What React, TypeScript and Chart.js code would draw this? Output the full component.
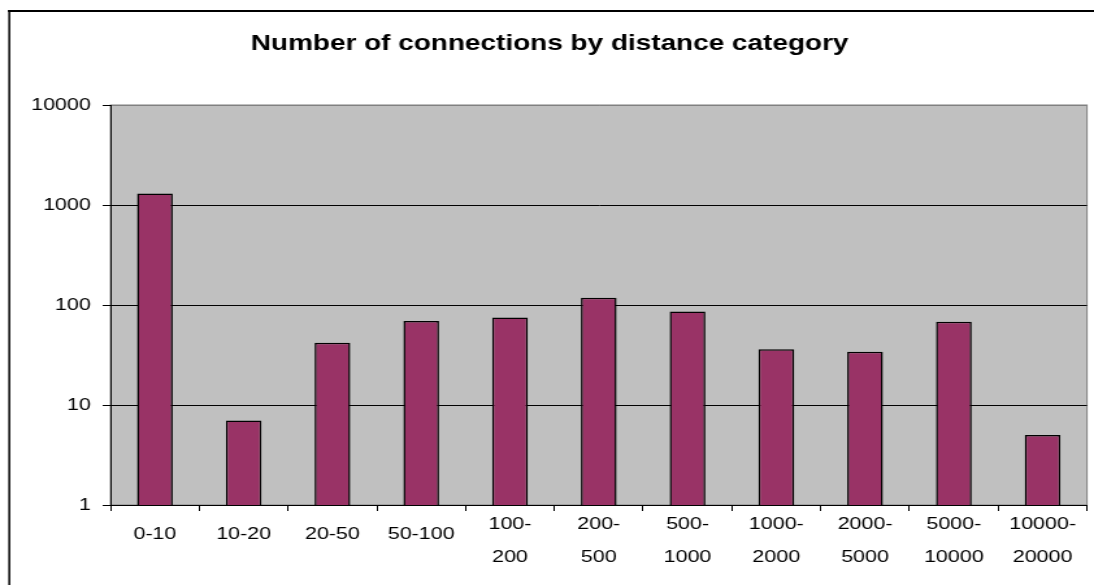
import React, { useEffect, useRef } from 'react';
import { Chart, registerables } from 'chart.js';

Chart.register(...registerables);

// ---- data ----
const categories = [
  '0-10', '10-20', '20-50', '50-100', '100-200', '200-500',
  '500-1000', '1000-2000', '2000-5000', '5000-10000', '10000-20000',
];
const categoryLines = [
  ['0-10'], ['10-20'], ['20-50'], ['50-100'], ['100-', '200'], ['200-', '500'],
  ['500-', '1000'], ['1000-', '2000'], ['2000-', '5000'], ['5000-', '10000'], ['10000-', '20000'],
];
const connections = [1300, 7, 42, 69, 75, 118, 86, 36, 34, 68, 5];
const yTickValues = [1, 10, 100, 1000, 10000];
const chartTitle = 'Number of connections by distance category';

// ---- geometry / style ----
const DISPLAY_W = 1094;
const DISPLAY_H = 585;
const INTERNAL_W = 842; // drawn narrower, then stretched horizontally
const SX = DISPLAY_W / INTERNAL_W;
const FONT = "'Liberation Sans', Arial, sans-serif";

const framePlugin = {
  id: 'frameAndPlotBg',
  beforeDraw(chart: any) {
    const { ctx, chartArea: a, width, height } = chart;
    ctx.save();
    ctx.fillStyle = '#ffffff';
    ctx.fillRect(0, 0, width, height);
    // outer frame (only left and top are visible in the picture)
    ctx.strokeStyle = '#000000';
    ctx.lineWidth = 2;
    ctx.beginPath();
    ctx.moveTo(9.3 / SX - 1, 11);
    ctx.lineTo(width + 5, 11);
    ctx.stroke();
    ctx.lineWidth = 2 / SX;
    ctx.beginPath();
    ctx.moveTo(9.3 / SX, 10);
    ctx.lineTo(9.3 / SX, height + 5);
    ctx.stroke();
    // plot area
    ctx.fillStyle = '#C0C0C0';
    ctx.fillRect(a.left, a.top, a.right - a.left, a.bottom - a.top);
    ctx.strokeStyle = '#808080';
    ctx.lineWidth = 1;
    ctx.strokeRect(a.left, a.top, a.right - a.left, a.bottom - a.top);
    ctx.restore();
  },
};

export default function App() {
  const ref = useRef<HTMLCanvasElement | null>(null);

  useEffect(() => {
    if (!ref.current) return;
    const chart = new Chart(ref.current, {
      type: 'bar',
      data: {
        labels: categories,
        datasets: [
          {
            label: 'Connections',
            data: connections,
            backgroundColor: '#993366',
            borderColor: '#000000',
            borderWidth: 1.5,
            borderSkipped: 'bottom',
            categoryPercentage: 1,
            barPercentage: 0.402,
          },
        ],
      },
      options: {
        animation: false,
        responsive: false,
        devicePixelRatio: 1,
        events: [],
        layout: { padding: { left: 9.4, right: 5.4, top: 0, bottom: 0 } },
        plugins: {
          legend: { display: false },
          tooltip: { enabled: false },
          title: {
            display: true,
            text: chartTitle,
            color: '#000000',
            font: { family: FONT, size: 21.5, weight: 'bold', lineHeight: 1.2 },
            padding: { top: 31.3, bottom: 47.9 },
          },
        },
        scales: {
          x: {
            type: 'category',
            afterFit(scale: any) {
              scale.height = 80;
            },
            grid: {
              offset: true,
              drawOnChartArea: false,
              drawTicks: true,
              tickLength: 6,
              tickColor: '#000000',
              color: '#000000',
            },
            border: { display: true, color: '#000000', width: 1 },
            ticks: {
              autoSkip: false,
              maxRotation: 0,
              minRotation: 0,
              padding: -3.5,
              color: '#000000',
              font: (c: any) => {
                const lines = categoryLines[c.index] || [''];
                return {
                  family: FONT,
                  size: 16.5,
                  lineHeight: lines.length > 1 ? '33px' : '53px',
                };
              },
              callback: (_v: any, i: number) => categoryLines[i],
            },
          },
          y: {
            type: 'logarithmic',
            min: 1,
            max: 10000,
            afterFit(scale: any) {
              scale.width = 75.65;
            },
            afterBuildTicks(scale: any) {
              scale.ticks = yTickValues.map((v) => ({ value: v }));
            },
            grid: {
              drawOnChartArea: true,
              drawTicks: true,
              tickLength: 6,
              tickColor: '#000000',
              color: (c: any) => (c.tick && c.tick.value === 10000 ? '#808080' : '#000000'),
              lineWidth: 1,
            },
            border: { display: true, color: '#000000', width: 1 },
            ticks: {
              padding: 9.2,
              color: '#000000',
              font: { family: FONT, size: 16.5 },
              callback: (v: any) => String(v),
            },
          },
        },
      },
      plugins: [framePlugin],
    } as any);
    return () => chart.destroy();
  }, []);

  return (
    <canvas
      ref={ref}
      width={INTERNAL_W}
      height={DISPLAY_H}
      style={{
        position: 'absolute',
        left: 0,
        top: 0,
        width: `${DISPLAY_W}px`,
        height: `${DISPLAY_H}px`,
        display: 'block',
      }}
    />
  );
}
